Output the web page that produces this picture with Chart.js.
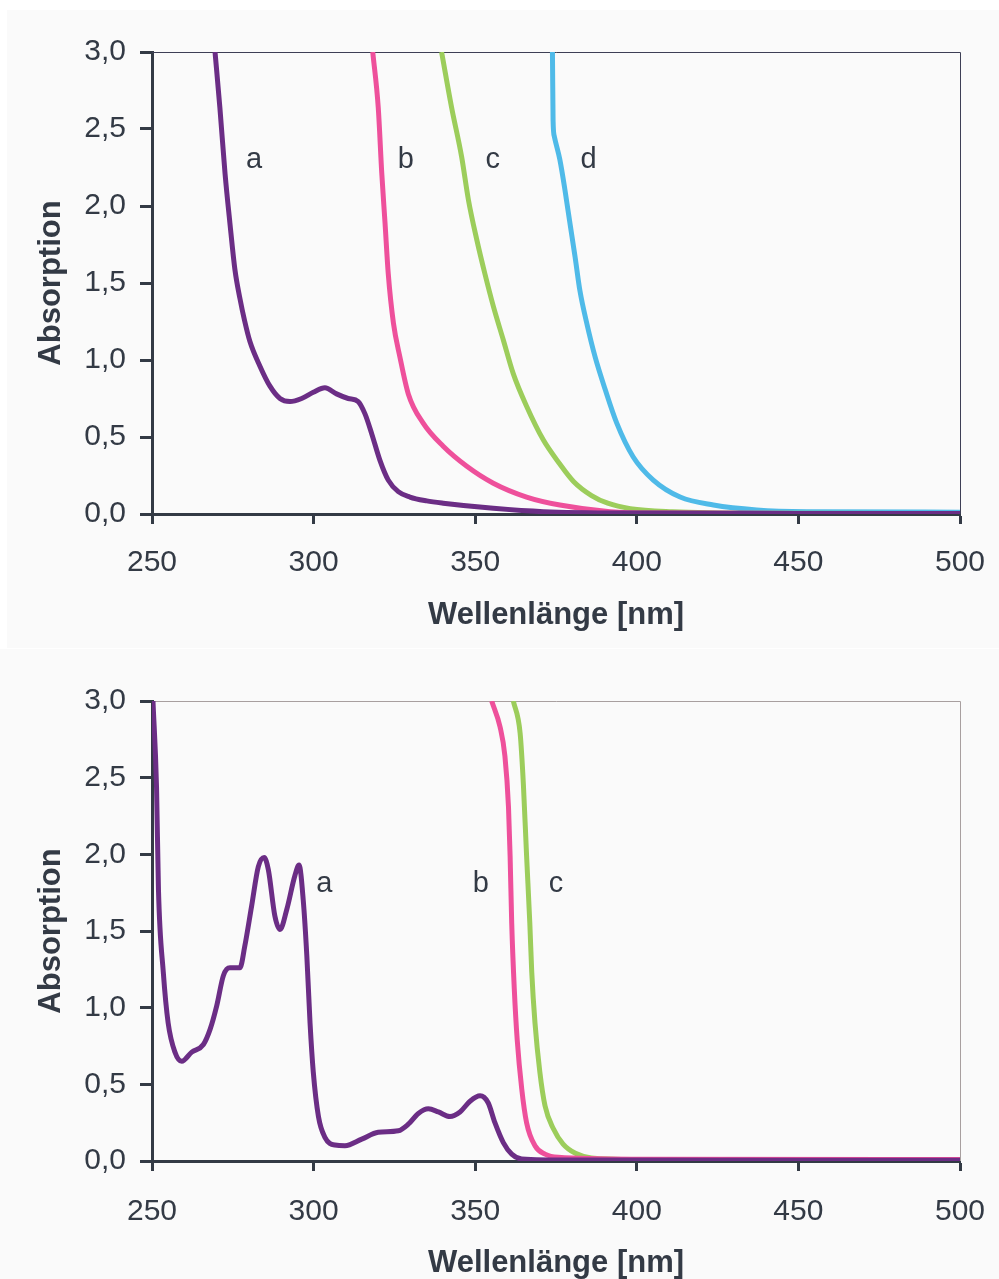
<!DOCTYPE html>
<html lang="de">
<head>
<meta charset="UTF-8">
<title>Absorptionsspektren</title>
<script src="https://cdn.jsdelivr.net/npm/chart.js@4.4.1/dist/chart.umd.min.js"></script>
<style>
  body {
    margin: 0;
    background: #fff;
    width: 999px;
    height: 1279px;
    position: relative;
    overflow: hidden;
  }
  .panel { position: absolute; background: #fafafa; }
  #panelOben { left: 7px; top: 10px; width: 992px; height: 638px; }
  #panelUnten { left: 0; top: 649px; width: 999px; height: 630px; }
  canvas { display: block; }
</style>
</head>
<body>
<div class="panel" id="panelOben"><canvas id="spektrumOben" width="992" height="638"></canvas></div>
<div class="panel" id="panelUnten"><canvas id="spektrumUnten" width="999" height="630"></canvas></div>

<script>
// Achsen
const xTicks = [250, 300, 350, 400, 450, 500];
const yTicks = [0, 0.5, 1.0, 1.5, 2.0, 2.5, 3.0];

// oberes Diagramm: Wellenlänge [nm] / Absorption
const wlObenA  = [269.5, 271.0, 272.6, 274.1, 275.7, 277.2, 278.6, 280.3, 283.4, 286.5, 289.6, 292.7, 296.3, 299.9, 303.5, 307.1, 310.7, 313.8, 315.9, 318.0, 320.5, 323.1, 326.2, 329.8, 335.0, 340.1, 355.6, 371.1, 400, 450, 500];
const absObenA = [3.0, 2.64, 2.21, 1.89, 1.58, 1.40, 1.26, 1.12, 0.96, 0.83, 0.75, 0.73, 0.75, 0.79, 0.82, 0.78, 0.75, 0.73, 0.65, 0.52, 0.35, 0.22, 0.145, 0.11, 0.085, 0.07, 0.037, 0.015, 0.006, 0.004, 0.003];

const wlObenB  = [318.3, 320.0, 321.1, 322.1, 323.1, 324.7, 326.7, 329.3, 333.9, 340.1, 347.4, 355.6, 365.9, 376.2, 391.7, 407.2, 450, 500];
const absObenB = [3.0, 2.64, 2.21, 1.89, 1.56, 1.24, 1.02, 0.78, 0.59, 0.44, 0.31, 0.20, 0.11, 0.058, 0.015, 0.006, 0.004, 0.003];

const wlObenC  = [339.6, 342.7, 345.8, 347.9, 350.5, 353.0, 355.6, 358.7, 361.8, 365.9, 371.1, 376.0, 380.5, 386.0, 391.0, 398.0, 411.0, 442, 500];
const absObenC = [3.0, 2.64, 2.32, 2.04, 1.78, 1.56, 1.35, 1.13, 0.91, 0.70, 0.48, 0.33, 0.21, 0.12, 0.07, 0.035, 0.015, 0.005, 0.003];

const wlObenD  = [373.9, 374.1, 374.5, 376.2, 377.8, 379.3, 380.9, 382.4, 384.5, 387.1, 390.2, 393.8, 398.9, 405.1, 413.4, 423.7, 437.1, 452.6, 500];
const absObenD = [3.0, 2.55, 2.45, 2.30, 2.10, 1.89, 1.67, 1.45, 1.24, 1.02, 0.81, 0.59, 0.37, 0.22, 0.11, 0.058, 0.026, 0.015, 0.012];

// unteres Diagramm
const wlUntenA  = [250.3, 251.4, 252.0, 253.5, 255.0, 257.1, 259.2, 262.3, 265.9, 268.0, 270.0, 272.1, 274.1, 277.2, 278.7, 280.8, 282.9, 284.7, 286.0, 288.0, 289.6, 291.7, 294.2, 295.5, 296.8, 297.9, 298.9, 299.9, 301.5, 303.5, 306.6, 309.7, 314.9, 320.0, 326.2, 329.3, 332.4, 335.5, 338.6, 342.2, 345.3, 348.4, 351.5, 354.0, 356.1, 358.7, 361.3, 364.4, 380, 500];
const absUntenA = [3.0, 2.44, 1.77, 1.23, 0.90, 0.71, 0.65, 0.71, 0.76, 0.86, 1.01, 1.21, 1.26, 1.26, 1.40, 1.66, 1.92, 1.98, 1.90, 1.60, 1.51, 1.64, 1.86, 1.93, 1.70, 1.34, 0.90, 0.58, 0.29, 0.154, 0.104, 0.10, 0.143, 0.187, 0.197, 0.24, 0.31, 0.34, 0.32, 0.29, 0.32, 0.39, 0.425, 0.38, 0.25, 0.12, 0.045, 0.013, 0.006, 0.005];

const wlUntenB  = [355.1, 357.7, 359.2, 360.3, 360.8, 361.3, 362.1, 363.0, 364.4, 365.9, 368.5, 371.6, 375.7, 400, 500];
const absUntenB = [3.0, 2.83, 2.64, 2.31, 1.99, 1.55, 1.12, 0.79, 0.47, 0.25, 0.10, 0.045, 0.024, 0.012, 0.01];

const wlUntenC  = [361.8, 363.9, 364.9, 365.9, 366.9, 367.5, 368.5, 370.0, 371.6, 374.2, 377.2, 381.0, 386.0, 400, 500];
const absUntenC = [3.0, 2.79, 2.46, 1.99, 1.55, 1.23, 0.90, 0.58, 0.36, 0.21, 0.11, 0.05, 0.02, 0.01, 0.008];

// Kurvenbezeichnungen (Wellenlänge, Absorption der Grundlinie)
const namenOben = ['a', 'b', 'c', 'd'];
const namenObenWl = [281.6, 328.5, 355.4, 385.1];
const namenObenAbs = [2.25, 2.25, 2.25, 2.25];
const namenUnten = ['a', 'b', 'c'];
const namenUntenWl = [303.3, 351.7, 375.0];
const namenUntenAbs = [1.757, 1.757, 1.757];

const farben = { a: '#6b2d85', b: '#ee509b', c: '#9ccd5b', d: '#4fbae8' };
const textFarbe = '#333a45';

Chart.defaults.font.family = "'Liberation Sans', Arial, sans-serif";
Chart.defaults.color = textFarbe;
Chart.defaults.animation = false;

function punkte(wl, abs) {
  return wl.map((w, i) => ({ x: w, y: abs[i] }));
}

function kurve(wl, abs, farbe) {
  return {
    data: punkte(wl, abs),
    borderColor: farbe,
    borderWidth: 5,
    pointRadius: 0,
    cubicInterpolationMode: 'monotone',
    fill: false
  };
}

// dünner Rahmen oben und rechts
const rahmen = {
  id: 'rahmen',
  beforeDatasetsDraw(chart, args, opts) {
    const { ctx, chartArea } = chart;
    ctx.save();
    ctx.strokeStyle = opts.color;
    ctx.lineWidth = 1;
    ctx.beginPath();
    ctx.moveTo(chartArea.left, chartArea.top + 0.5);
    ctx.lineTo(chartArea.right + 0.5, chartArea.top + 0.5);
    ctx.lineTo(chartArea.right + 0.5, chartArea.bottom);
    ctx.stroke();
    ctx.restore();
  }
};

// Buchstaben an den Kurven
const kurvenNamen = {
  id: 'kurvenNamen',
  afterDatasetsDraw(chart, args, opts) {
    const { ctx, scales } = chart;
    ctx.save();
    ctx.fillStyle = textFarbe;
    ctx.font = "29px 'Liberation Sans', Arial, sans-serif";
    ctx.textAlign = 'center';
    ctx.textBaseline = 'alphabetic';
    opts.namen.forEach((n, i) => {
      ctx.fillText(n, scales.x.getPixelForValue(opts.wl[i]), scales.y.getPixelForValue(opts.abs[i]));
    });
    ctx.restore();
  }
};

function diagramm(id, datasets, p) {
  return new Chart(document.getElementById(id), {
    type: 'line',
    data: { datasets: datasets },
    plugins: [rahmen, kurvenNamen],
    options: {
      responsive: false,
      layout: { padding: { left: 0, top: p.top, right: 39, bottom: 0 } },
      plugins: {
        legend: { display: false },
        tooltip: { enabled: false },
        rahmen: { color: p.rahmenFarbe },
        kurvenNamen: { namen: p.namen, wl: p.namenWl, abs: p.namenAbs }
      },
      scales: {
        x: {
          type: 'linear',
          min: 250,
          max: 500,
          afterBuildTicks: axis => { axis.ticks = xTicks.map(v => ({ value: v })); },
          afterFit: axis => {
            axis.height = p.xHoehe;
            axis.paddingLeft = 0;
            axis.paddingRight = 0;
          },
          ticks: { font: { size: 30 }, padding: p.xPad, color: textFarbe },
          grid: { drawOnChartArea: false, tickLength: 10, tickWidth: 3, tickColor: textFarbe },
          border: { color: textFarbe, width: 3 },
          title: {
            display: true,
            text: 'Wellenlänge [nm]',
            font: { size: 31, weight: 'bold' },
            color: textFarbe,
            padding: { top: 0, bottom: p.xTitelPad }
          }
        },
        y: {
          min: 0,
          max: 3,
          afterBuildTicks: axis => { axis.ticks = yTicks.map(v => ({ value: v })); },
          afterFit: axis => { axis.width = p.yBreite; },
          ticks: {
            font: { size: 30 },
            padding: 14,
            color: textFarbe,
            callback: v => v.toFixed(1).replace('.', ',')
          },
          grid: { drawOnChartArea: false, tickLength: 12, tickWidth: 3, tickColor: textFarbe },
          border: { color: textFarbe, width: 3 },
          title: {
            display: true,
            text: 'Absorption',
            font: { size: 31, weight: 'bold' },
            color: textFarbe,
            padding: { top: p.yTitelPad, bottom: 0 }
          }
        }
      }
    }
  });
}

diagramm('spektrumOben', [
  kurve(wlObenA, absObenA, farben.a),
  kurve(wlObenB, absObenB, farben.b),
  kurve(wlObenC, absObenC, farben.c),
  kurve(wlObenD, absObenD, farben.d)
], {
  top: 42, xHoehe: 134, xPad: 21, xTitelPad: 14, yTitelPad: 26, yBreite: 145,
  rahmenFarbe: '#3d3f55',
  namen: namenOben, namenWl: namenObenWl, namenAbs: namenObenAbs
});

diagramm('spektrumUnten', [
  kurve(wlUntenA, absUntenA, farben.a),
  kurve(wlUntenB, absUntenB, farben.b),
  kurve(wlUntenC, absUntenC, farben.c)
], {
  top: 52, xHoehe: 118, xPad: 23, xTitelPad: -3, yTitelPad: 33, yBreite: 152,
  rahmenFarbe: '#a89f9f',
  namen: namenUnten, namenWl: namenUntenWl, namenAbs: namenUntenAbs
});
</script>
</body>
</html>
